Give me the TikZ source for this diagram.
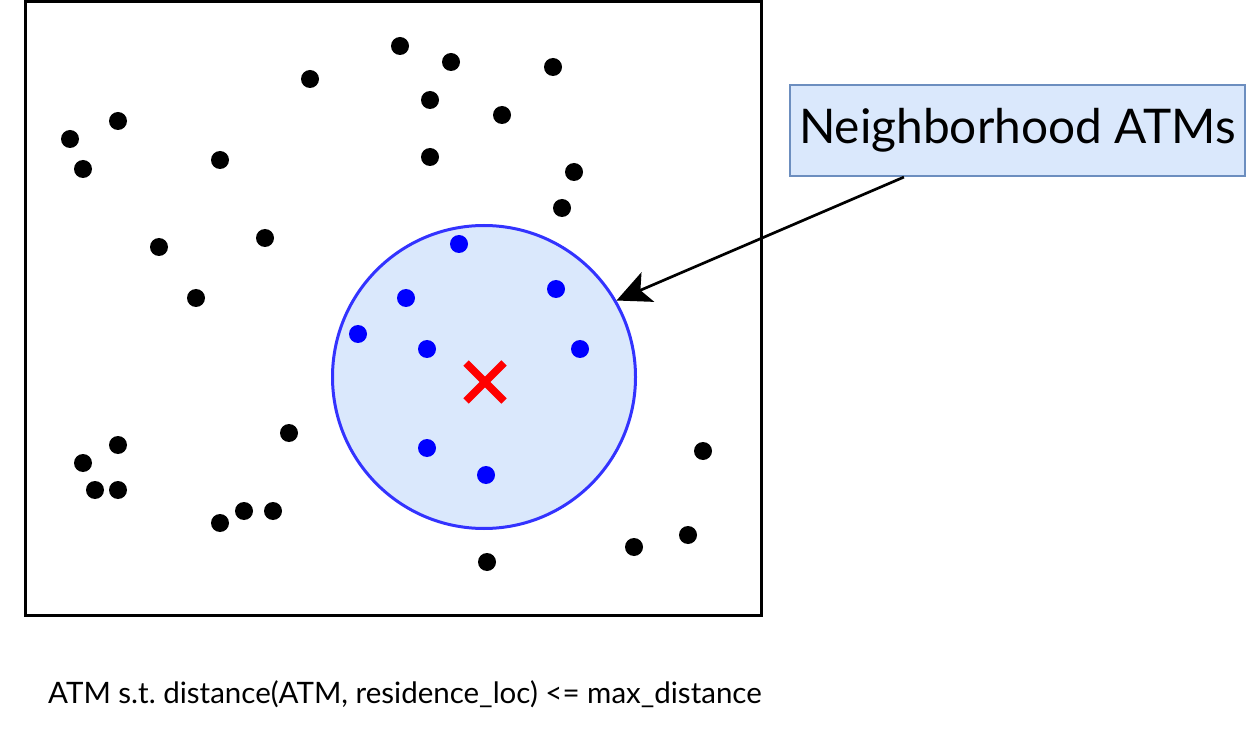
\documentclass[tikz,border=0pt]{standalone}
\usepackage{fontspec}
\setmainfont{Lato}
\usetikzlibrary{arrows.meta,calc}
\frenchspacing
\definecolor{zonefill}{HTML}{DAE8FC}
\definecolor{zoneline}{HTML}{3333FF}
\definecolor{boxline}{HTML}{6C8EBF}
\definecolor{inblue}{HTML}{0000FF}
\definecolor{crossred}{HTML}{FF0000}
\tikzset{
  atm/.style={fill=black},
  nearatm/.style={fill=inblue},
  labelbox/.style={draw=boxline, fill=zonefill, line width=2.2pt, minimum width=455pt, minimum height=91pt, inner sep=0pt, font=\fontsize{47.8}{54}\selectfont},
  zonestyle/.style={circle, draw=zoneline, fill=zonefill, line width=3pt, minimum size=303pt, inner sep=0pt},
  pointer/.style={line width=2.7pt, -{Stealth[length=34pt,width=32pt,inset=8pt]}}
}
\begin{document}
\begin{tikzpicture}[x=1pt,y=-1pt]
\useasboundingbox (0,0) rectangle (1248,735);
\fill[white] (0,0) rectangle (1248,735);
\draw[line width=3pt] (25,1.5) rectangle (761,615);
\node[zonestyle] (zone) at (484,377) {};
\foreach \x/\y in {400/46,451/62,553/67,310/79,430/100,502/115,118/121,70/139,83/169,220/160,430/157,574/172,562/208,159/247,265/238,196/298,289/433,118/445,83/463,95/490,118/490,220/523,244/511,273/511,703/451,634/547,688/535,487/562}
  \fill[atm] (\x,\y) circle (9pt);
\foreach \x/\y in {459/244,406/298,556/289,358/334,427/349,580/349,427/448,486/475}
  \fill[nearatm] (\x,\y) circle (9pt);
\coordinate (ctr) at (485,382);
\draw[crossred, line width=7.5pt] ($(ctr)+(-19,-19)$) -- ($(ctr)+(19,19)$);
\draw[crossred, line width=7.5pt] ($(ctr)+(-19,19)$) -- ($(ctr)+(19,-19)$);
\node[labelbox] (lbl) at (1017.5,130.5) {Neighborhood ATMs};
\coordinate (start) at ($(lbl.south west)+(115,0)$);
\draw[pointer] (start) -- (zone.30.5);
\node[anchor=base west, inner sep=0pt, font=\fontsize{29.5}{34}\selectfont] (cap) at (48,703) {ATM s.t. distance(ATM, residence\_loc) <= max\_distance};
\end{tikzpicture}
\end{document}
